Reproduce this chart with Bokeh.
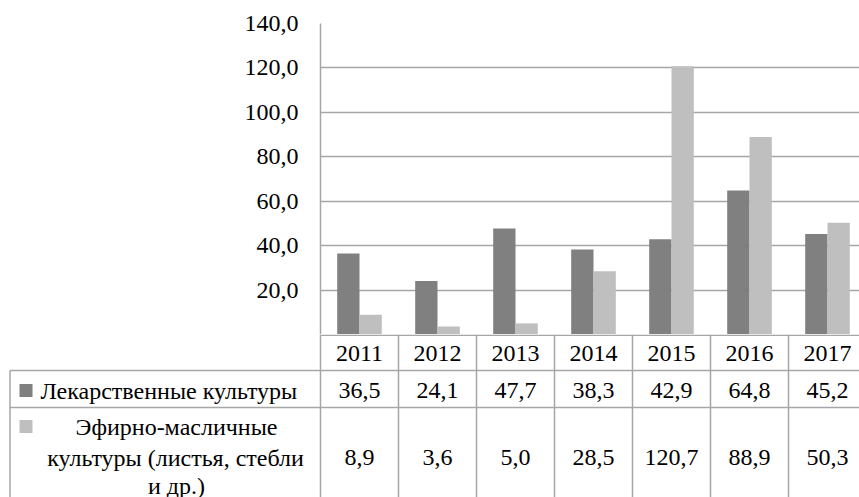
from bokeh.plotting import figure
from bokeh.layouts import column
from bokeh.models import Range1d, FixedTicker
from bokeh.embed import file_html
from bokeh.resources import INLINE
from bokeh.core.properties import value

# ---- data ----
years = ["2011", "2012", "2013", "2014", "2015", "2016", "2017"]
medicinal = [36.5, 24.1, 47.7, 38.3, 42.9, 64.8, 45.2]
essential = [8.9, 3.6, 5.0, 28.5, 120.7, 88.9, 50.3]
name_medicinal = "Лекарственные культуры"
name_essential_lines = ["Эфирно-масличные", "культуры (листья, стебли", "и др.)"]
y_ticks = [20, 40, 60, 80, 100, 120, 140]

DARK = "#808080"
LIGHT = "#bfbfbf"
GRID = "#a6a6a6"
FONT = "Liberation Serif, Times New Roman, serif"
FS = "24px"

def fmt(v):
    return f"{v:.1f}".replace(".", ",")

# ---- geometry (page pixels) ----
W = 859
BAND = 78.0
X0 = 320.0
x_end = (W - X0) / BAND
def px2x(px):
    return (px - X0) / BAND

n = len(years)
centers = [i + 0.5 for i in range(n)]
bar_w = 0.286

# ---- chart ----
CH = 334
p = figure(width=W, height=CH, x_range=Range1d(0, x_end), y_range=Range1d(0, 140),
           output_backend="svg", toolbar_location=None, x_axis_location=None,
           min_border_left=320, min_border_right=0, min_border_top=23, min_border_bottom=0,
           frame_align=False)
p.outline_line_color = None
p.vbar(x=[c - bar_w / 2 for c in centers], top=medicinal, width=bar_w, color=DARK, line_color=None)
p.vbar(x=[c + bar_w / 2 for c in centers], top=essential, width=bar_w, color=LIGHT, line_color=None)
p.xgrid.visible = False
p.ygrid.ticker = FixedTicker(ticks=y_ticks)
p.ygrid.grid_line_color = GRID
p.ygrid.grid_line_width = 1.5
ax = p.yaxis[0]
ax.ticker = FixedTicker(ticks=y_ticks)
ax.major_label_overrides = {t: fmt(t) for t in y_ticks}
ax.major_label_text_font = FONT
ax.major_label_text_font_size = FS
ax.major_label_text_color = "black"
ax.major_tick_out = 0
ax.major_tick_in = 0
ax.minor_tick_out = 0
ax.minor_tick_in = 0
ax.major_label_standoff = 22
ax.axis_line_color = GRID
ax.axis_line_width = 1.5

# ---- data table ----
TOP = 334.0
H = 497 - CH
t = figure(width=W, height=H, x_range=Range1d(px2x(0), x_end), y_range=Range1d(H, 0),
           output_backend="svg", toolbar_location=None, x_axis_location=None,
           y_axis_location=None, min_border=0, min_border_left=0, min_border_right=0,
           min_border_top=0, min_border_bottom=0, frame_align=False)
t.outline_line_color = None
t.grid.visible = False

def py(pg):
    return pg - TOP

lx = px2x(9.5)
# horizontal lines
t.segment(x0=[0, lx, lx], y0=[py(334.75), py(370), py(407)],
          x1=[x_end] * 3, y1=[py(334.75), py(370), py(407)],
          line_color=GRID, line_width=1.5)
# vertical lines
vx = [float(i) for i in range(n)]
t.segment(x0=vx, y0=[0] * n, x1=vx, y1=[H] * n, line_color=GRID, line_width=1.5)
t.segment(x0=[lx], y0=[py(370)], x1=[lx], y1=[H], line_color=GRID, line_width=1.5)

tf = value(FONT)
t.text(x=centers, y=[py(353)] * n, text=years, text_font=tf, text_font_size=FS,
       text_align="center", text_baseline="middle", text_color="black")
t.text(x=centers, y=[py(390)] * n, text=[fmt(v) for v in medicinal], text_font=tf,
       text_font_size=FS, text_align="center", text_baseline="middle", text_color="black")
t.text(x=centers, y=[py(457)] * n, text=[fmt(v) for v in essential], text_font=tf,
       text_font_size=FS, text_align="center", text_baseline="middle", text_color="black")

# legend keys
t.scatter(x=[px2x(25.5)] * 2, y=[py(390), py(426)], marker="square", size=13,
          color=[DARK, LIGHT], line_color=None)
t.text(x=[px2x(40)], y=[py(390)], text=[name_medicinal], text_font=tf, text_font_size=FS,
       text_align="left", text_baseline="middle", text_color="black")
t.text(x=[px2x(176)], y=[py(426)], text=[name_essential_lines[0]],
       text_font=tf, text_font_size=FS, text_align="center", text_baseline="middle",
       text_color="black")
t.text(x=[px2x(175)], y=[py(457)], text=[name_essential_lines[1]],
       text_font=tf, text_font_size=FS, text_align="center", text_baseline="middle",
       text_color="black")
t.text(x=[px2x(176)], y=[py(485)], text=[name_essential_lines[2]],
       text_font=tf, text_font_size=FS, text_align="center", text_baseline="middle",
       text_color="black")

layout = column(p, t, spacing=0)
open("out.html", "w").write(file_html(layout, INLINE))
